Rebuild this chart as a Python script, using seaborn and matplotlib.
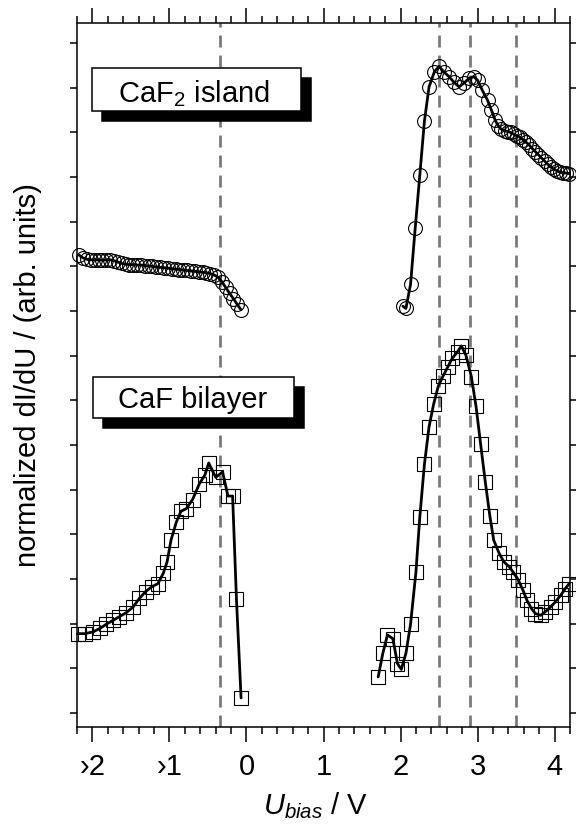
import matplotlib
matplotlib.use("Agg")
import matplotlib.pyplot as plt
from matplotlib.patches import Rectangle
from matplotlib.ticker import MultipleLocator, FixedLocator, FixedFormatter
import seaborn as sns
import pandas as pd

# ---------------- data ----------------
island_left_x = [-2.17, -2.12, -2.07, -2.02, -1.97, -1.92, -1.87, -1.82, -1.77, -1.72,
                 -1.67, -1.62, -1.57, -1.52, -1.47, -1.42, -1.37, -1.32, -1.27, -1.22,
                 -1.17, -1.12, -1.07, -1.02, -0.97, -0.92, -0.87, -0.82, -0.77, -0.72,
                 -0.67, -0.62, -0.57, -0.52, -0.47, -0.42, -0.37, -0.32, -0.27, -0.22,
                 -0.17, -0.12, -0.07]
island_left_y = [10.25, 10.19, 10.16, 10.15, 10.15, 10.15, 10.14, 10.15, 10.15, 10.13,
                 10.10, 10.07, 10.05, 10.04, 10.04, 10.03, 10.03, 10.02, 10.01, 10.00,
                 9.99, 9.98, 9.97, 9.96, 9.95, 9.94, 9.93, 9.92, 9.91, 9.90,
                 9.89, 9.88, 9.87, 9.86, 9.84, 9.81, 9.76, 9.66, 9.53, 9.40,
                 9.28, 9.15, 9.03]

island_right_x = [2.03, 2.07, 2.13, 2.19, 2.25, 2.31, 2.37, 2.44, 2.50, 2.56,
                  2.63, 2.69, 2.76, 2.82, 2.89, 2.95, 3.00, 3.06, 3.13, 3.18,
                  3.23, 3.27, 3.31, 3.35, 3.39, 3.43, 3.47, 3.51, 3.55, 3.59,
                  3.63, 3.67, 3.71, 3.75, 3.79, 3.83, 3.87, 3.91, 3.95, 3.99,
                  4.03, 4.07, 4.11, 4.15, 4.19]
island_right_y = [9.11, 9.06, 9.60, 10.85, 12.04, 13.25, 14.02, 14.36, 14.48, 14.36,
                  14.25, 14.13, 14.02, 14.10, 14.21, 14.25, 14.17, 13.95, 13.72, 13.50,
                  13.27, 13.14, 13.07, 13.04, 13.02, 13.00, 12.96, 12.93, 12.89, 12.84,
                  12.78, 12.72, 12.64, 12.57, 12.50, 12.43, 12.36, 12.29, 12.23, 12.18,
                  12.14, 12.11, 12.10, 12.09, 12.08]

bilayer_left_x = [-2.19, -2.10, -1.99, -1.90, -1.82, -1.73, -1.65, -1.56, -1.47, -1.39,
                  -1.31, -1.23, -1.15, -1.08, -1.03, -0.98, -0.91, -0.85, -0.78, -0.70,
                  -0.61, -0.54, -0.49, -0.40, -0.31, -0.24, -0.18, -0.13, -0.07]
bilayer_left_y = [1.78, 1.78, 1.82, 1.90, 1.99, 2.08, 2.16, 2.25, 2.38, 2.57,
                  2.72, 2.83, 2.90, 3.13, 3.39, 3.87, 4.28, 4.52, 4.58, 4.78,
                  5.14, 5.33, 5.60, 5.28, 5.40, 4.86, 4.86, 2.55, 0.34]

bilayer_right_x = [1.71, 1.77, 1.83, 1.90, 1.96, 2.01, 2.07, 2.13, 2.20, 2.25,
                   2.31, 2.37, 2.43, 2.49, 2.55, 2.61, 2.67, 2.74, 2.79, 2.85,
                   2.92, 2.98, 3.04, 3.10, 3.16, 3.21, 3.28, 3.34, 3.41, 3.46,
                   3.53, 3.59, 3.64, 3.70, 3.75, 3.82, 3.88, 3.95, 4.01, 4.08,
                   4.14, 4.19]
bilayer_right_y = [0.81, 1.34, 1.75, 1.67, 1.11, 0.98, 1.34, 1.99, 3.16, 4.39,
                   5.57, 6.41, 6.92, 7.32, 7.54, 7.74, 7.94, 8.09, 8.22, 8.01,
                   7.53, 6.87, 6.02, 5.18, 4.41, 3.87, 3.58, 3.39, 3.28, 3.16,
                   2.98, 2.75, 2.53, 2.34, 2.23, 2.19, 2.27, 2.38, 2.49, 2.64,
                   2.79, 2.90]

dashed_x = [-0.35, 2.5, 2.9, 3.5]
xtick_values = [-2, -1, 0, 1, 2, 3, 4]
xtick_labels = ["\u203a2", "\u203a1", "0", "1", "2", "3", "4"]
ytick_values = list(range(0, 16))
label_island = "CaF$_2$ island"
label_bilayer = "CaF bilayer"

# ---------------- style ----------------
sns.set_theme(style="ticks")
plt.rcParams["font.family"] = ["Liberation Sans", "DejaVu Sans"]
plt.rcParams["mathtext.fontset"] = "custom"
plt.rcParams["mathtext.rm"] = "Liberation Sans"
plt.rcParams["mathtext.it"] = "Liberation Sans:italic"
plt.rcParams["mathtext.bf"] = "Liberation Sans:bold"
plt.rcParams["text.color"] = "black"
plt.rcParams["axes.labelcolor"] = "black"
plt.rcParams["xtick.color"] = "black"
plt.rcParams["ytick.color"] = "black"
plt.rcParams["axes.edgecolor"] = "black"

fig = plt.figure(figsize=(5.76, 8.25), dpi=100)
ax = fig.add_axes([77 / 576, 1 - 727 / 825, 493 / 576, 704 / 825])

for xv in dashed_x:
    ax.axvline(xv, color="#7a7a7a", lw=2, dashes=(4.3, 2.9), zorder=1)

series = [
    (island_left_x, island_left_y, "o"),
    (island_right_x, island_right_y, "o"),
    (bilayer_left_x, bilayer_left_y, "s"),
    (bilayer_right_x, bilayer_right_y, "s"),
]
for xs, ys, mk in series:
    df = pd.DataFrame({"U": xs, "dIdU": ys})
    sns.lineplot(data=df, x="U", y="dIdU", ax=ax, estimator=None, sort=False,
                 marker=mk, markersize=10, markerfacecolor="none",
                 markeredgecolor="black", markeredgewidth=0.8,
                 linestyle="none", color="black", zorder=2, clip_on=False)
    sns.lineplot(data=df, x="U", y="dIdU", ax=ax, estimator=None, sort=False,
                 color="black", lw=2, zorder=3, clip_on=False)

ax.set_xlim(-2.2, 4.2)
ax.set_ylim(-0.31, 15.45)

ax.xaxis.set_major_locator(FixedLocator(xtick_values))
ax.xaxis.set_major_formatter(FixedFormatter(xtick_labels))
ax.xaxis.set_minor_locator(MultipleLocator(0.2))
ax.yaxis.set_major_locator(FixedLocator(ytick_values))
ax.set_yticklabels([])

ax.tick_params(axis="x", which="major", direction="out", length=10.5, width=1.1,
               top=True, bottom=True, labelsize=21, pad=8)
ax.tick_params(axis="x", which="minor", direction="out", length=5, width=1.1,
               top=True, bottom=True)
ax.tick_params(axis="y", which="major", direction="out", length=5, width=1.1,
               left=True, right=True, labelleft=False)
for sp in ax.spines.values():
    sp.set_visible(True)
    sp.set_linewidth(1.1)
    sp.set_color("black")

ax.set_xlabel(r"$U_{bias}$ / V", fontsize=21)
ax.xaxis.set_label_coords(0.483, -0.09)
ax.set_ylabel("normalized dI/dU / (arb. units)", fontsize=21)
ax.yaxis.set_label_coords(-0.07, 0.5)

# label boxes with drop shadow (axes-fraction coordinates)
def label_box(x0, y0, w, h, text, tx, ty):
    dx, dy = 10 / 493, -10 / 704
    ax.add_patch(Rectangle((x0 + dx, y0 + dy), w, h, transform=ax.transAxes,
                           facecolor="black", edgecolor="black", lw=1.1,
                           zorder=5, clip_on=False))
    ax.add_patch(Rectangle((x0, y0), w, h, transform=ax.transAxes,
                           facecolor="white", edgecolor="black", lw=1.1,
                           zorder=6, clip_on=False))
    ax.text(tx, ty, text, transform=ax.transAxes, fontsize=21,
            ha="center", va="baseline", zorder=7)

label_box(0.0298, 0.875, 0.424, 0.0607, label_island, 0.2367, 0.888)
label_box(0.0318, 0.4385, 0.4083, 0.0591, label_bilayer, 0.2353, 0.4527)

fig.savefig("out.png", dpi=100)
